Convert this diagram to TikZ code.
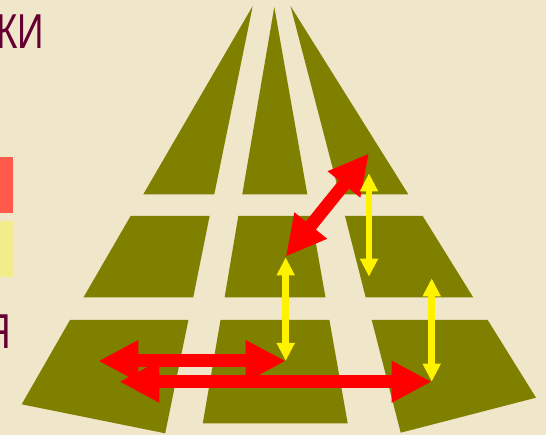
\documentclass[tikz,border=0pt]{standalone}
\usepackage{fontspec}
\setmainfont{Liberation Sans}
\usetikzlibrary{arrows.meta}
\definecolor{paper}{HTML}{F0E6C9}
\definecolor{slabgreen}{HTML}{808000}
\definecolor{wine}{HTML}{660033}
\definecolor{salmonbar}{HTML}{FF5A4B}
\definecolor{palebar}{HTML}{F3EC8A}

\begin{document}
\begin{tikzpicture}[x=1pt,y=-1pt,
  slab/.style={fill=slabgreen},
  redarrow/.style={draw=red,line width=13pt,
    {Triangle[length=40pt,width=39pt]}-{Triangle[length=40pt,width=39pt]}},
  yelarrow/.style={draw=yellow,line width=6.5pt,
    {Triangle[length=18pt,width=17pt]}-{Triangle[length=18pt,width=17pt]}},
  word/.style={text=wine,inner sep=0pt,xscale=0.75,
    font=\fontsize{49}{49}\selectfont},
]
\useasboundingbox (0,0) rectangle (546,435);
\fill[paper] (0,0) rectangle (546,435);
\clip (0,0) rectangle (546,435);

% ---- cut-off title and legend at the left edge --------------------------
\node[word,anchor=base east] (ttl) at (44,48.3) {КИ};
\fill[salmonbar] (0,156.7) rectangle (13,212.7);
\fill[palebar] (0,221) rectangle (13,276.7);
\node[word,anchor=base east] (lbl) at (11,348.3) {Я};

% ---- pyramid, top row -----------------------------------------------------
\fill[slab] (252.7,6) -- (214.3,194.3) -- (143.3,194.3) -- cycle;
\fill[slab] (274.3,7) -- (307.3,194.3) -- (242.3,194.3) -- cycle;
\fill[slab] (290.5,6) -- (408.3,194.3) -- (339.5,194.3) -- cycle;
% middle row
\fill[slab] (130.6,216) -- (209.6,216) -- (193.2,297.5) -- (83.4,297.5) -- cycle;
\fill[slab] (238.3,216) -- (311.1,216) -- (325.5,297.5) -- (224.6,297.5) -- cycle;
\fill[slab] (345,216) -- (422.7,216) -- (473.3,297.5) -- (365.7,297.5) -- cycle;
% bottom row
\fill[slab] (70,320) -- (188.4,320) -- (165.2,433.3) -- (21.7,404.3) -- cycle;
\fill[slab] (220.5,320) -- (329.4,320) -- (347.7,423.3) -- (202.8,423.3) -- cycle;
\fill[slab] (371.7,320) -- (487.7,320) -- (536,397.7) -- (400.7,432.7) -- cycle;

% ---- arrow ends -------------------------------------------------------------
\coordinate (dgLo) at (285.7,256.7);
\coordinate (dgHi) at (369,153.3);
\coordinate (hzAL) at (98.3,361);
\coordinate (hzAR) at (285.7,361);
\coordinate (hzBL) at (119.3,381.7);
\coordinate (hzBR) at (431.7,381.7);
\coordinate (vtAT) at (285.7,257.3);
\coordinate (vtBT) at (369,173.3);
\coordinate (vtBB) at (369,276.7);
\coordinate (vtCT) at (431.7,278.3);

% ---- links ------------------------------------------------------------------
\draw[redarrow] (dgLo) -- (dgHi);
\draw[redarrow] (hzAL) -- (hzAR);
\draw[redarrow] (hzBL) -- (hzBR);
\draw[yelarrow] (vtAT) -- (hzAR);
\draw[yelarrow] (vtBT) -- (vtBB);
\draw[yelarrow] (vtCT) -- (hzBR);
\end{tikzpicture}
\end{document}
